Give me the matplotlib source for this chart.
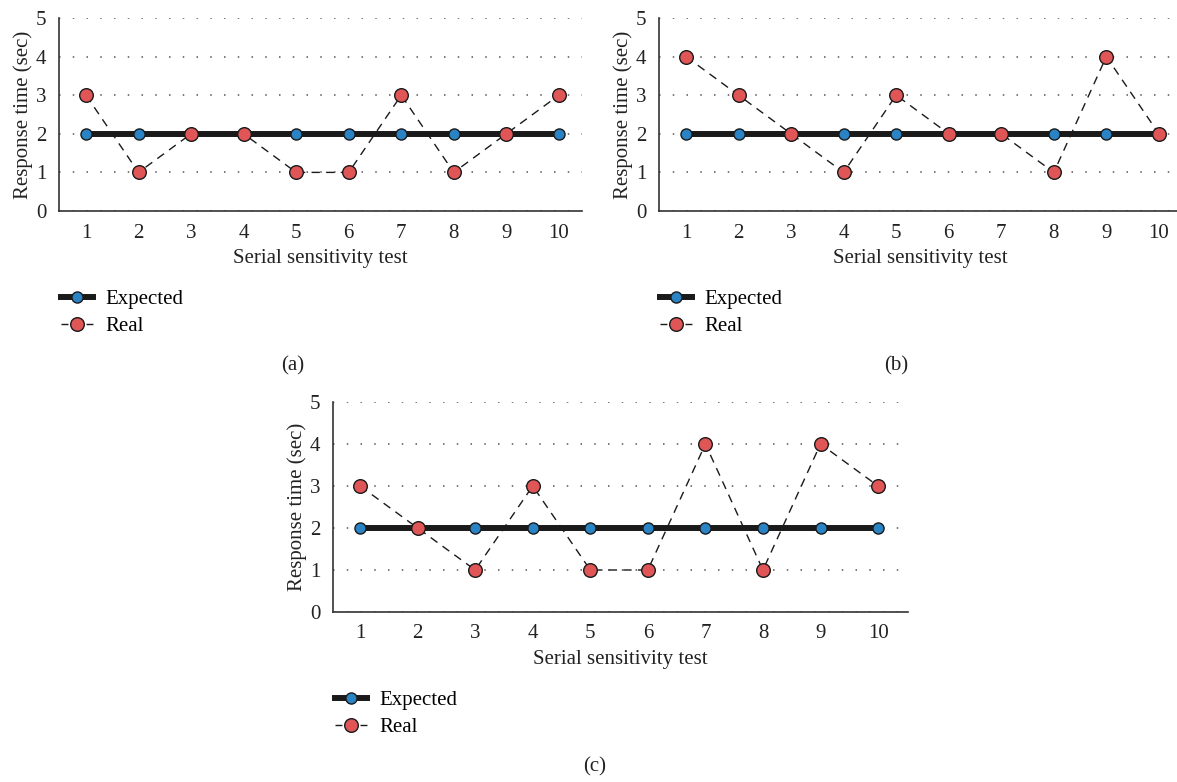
import matplotlib
matplotlib.use('Agg')
import matplotlib.pyplot as plt
from matplotlib.lines import Line2D
import numpy as np

plt.rcParams['font.family'] = ['Liberation Serif', 'DejaVu Serif']
plt.rcParams['font.size'] = 15

tests = [1, 2, 3, 4, 5, 6, 7, 8, 9, 10]
expected = [2, 2, 2, 2, 2, 2, 2, 2, 2, 2]
real_a = [3, 1, 2, 2, 1, 1, 3, 1, 2, 3]
real_b = [4, 3, 2, 1, 3, 2, 2, 1, 4, 2]
real_c = [3, 2, 1, 3, 1, 1, 4, 1, 4, 3]

blue = '#2a83c4'
red = '#e05656'
W, H = 1177.0, 782.0

fig = plt.figure(figsize=(W/100, H/100), dpi=100)


def px_axes(left, right, top, bottom):
    return fig.add_axes([left/W, 1 - bottom/H, (right-left)/W, (bottom-top)/H])


def draw_panel( ax, real, xlim, leg_x, leg_y, cap, cap_x, cap_y):
    l1, = ax.plot( tests, expected, color='#1a1a1a', lw=4.3, marker='o', ms=8.0,
                   mfc=blue, mec='#1a1a1a', mew=1.0, zorder=3, label='Expected')
    ax.plot( tests, real, color='#1a1a1a', lw=1.0, ls=(0, (6, 4.5)), marker='o',
             ms=9.8, mfc=red, mec='#1a1a1a', mew=1.0, zorder=4)
    # legend proxy so the dashes sit evenly either side of the marker
    l2 = Line2D( [], [], color='#1a1a1a', lw=1.0, ls=(0, (5, 13)), marker='o',
                 ms=9.8, mfc=red, mec='#1a1a1a', mew=1.0, label='Real')
    ax.set_xlim( xlim)
    ax.set_ylim( 0, 5)
    ax.set_xticks( tests)
    ax.set_yticks( [0, 1, 2, 3, 4, 5])
    ax.tick_params( length=0, pad=9, labelsize=15, colors='#222222')
    for s in ['top', 'right']:
        ax.spines[s].set_visible( False)
    for s in ['left', 'bottom']:
        ax.spines[s].set_color( '#333333')
        ax.spines[s].set_linewidth( 1.2)
    ax.yaxis.grid( True, color='#555555', lw=1.1, ls=(0, (1, 8)))
    ax.set_axisbelow( True)
    ax.set_xlabel( 'Serial sensitivity test', labelpad=5, color='#222222')
    ax.set_ylabel( 'Response time (sec)', labelpad=2, color='#222222')
    ax.legend( handles=[l1, l2], loc='center left',
               bbox_to_anchor=(leg_x/W, 1 - leg_y/H), bbox_transform=fig.transFigure,
               frameon=False, handlelength=1.55, handletextpad=0.6,
               labelspacing=0.35, borderpad=0, borderaxespad=0, fontsize=15)
    fig.text( cap_x/W, 1 - cap_y/H, cap, ha='center', va='center', fontsize=15,
              color='#222222')


ax_a = px_axes( 59, 582, 18, 211)
draw_panel( ax_a, real_a, (0.486, 10.44), 61, 313, '(a)', 293, 366)

ax_b = px_axes( 659, 1182, 18, 211)
draw_panel( ax_b, real_b, (0.486, 10.44), 660, 313, '(b)', 896, 366)

ax_c = px_axes( 333, 908, 402, 612)
draw_panel( ax_c, real_c, (0.53, 10.52), 335, 714, '(c)', 595, 767)

fig.savefig( 'out.png', dpi=100)
